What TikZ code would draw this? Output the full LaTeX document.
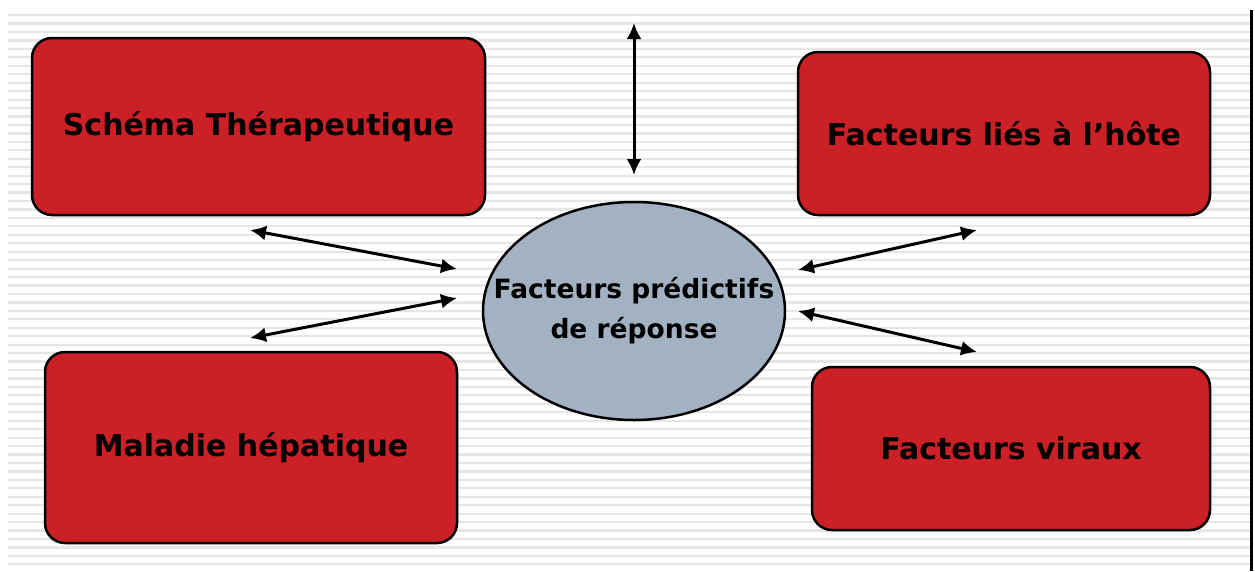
\documentclass[tikz,border=0pt]{standalone}
\usepackage{fontspec}
\setmainfont{DejaVu Sans}
\usetikzlibrary{backgrounds,arrows.meta,shapes.geometric}
\definecolor{xred}{RGB}{204,32,39}
\definecolor{xgrey}{RGB}{163,178,194}
\definecolor{xstripe}{RGB}{230,230,230}

\begin{document}
\begin{tikzpicture}[x=1pt, y=-1pt,
		box/.style={draw, rectangle, rounded corners=20pt, line width=2.5pt, fill=xred, inner sep=0pt, font=\bfseries\fontsize{30}{36}\selectfont},
		link/.style={{Latex[length=16pt,width=15pt]}-{Latex[length=16pt,width=15pt]}, line width=3pt}]
			\useasboundingbox (0,0) rectangle (1255,571);
			\begin{scope}[on background layer]
				\fill[white] (0,0) rectangle (1255,571);
				\foreach \k in {0,...,65}
					\fill[xstripe] (8,14+8.45*\k) rectangle (1250,16.2+8.45*\k);
				\draw[line width=3pt] (1251,10) -- (1251,571);
			\end{scope}
			\node[box, minimum width=453pt, minimum height=177pt] at (258.5, 126.5) (schema) {Schéma Thérapeutique};
			\node[box, minimum width=412pt, minimum height=163pt] at (1004, 133.5) (hote) {Facteurs liés à l’hôte};
			\node[box, minimum width=412pt, minimum height=191pt] at (251, 447.5) (maladie) {Maladie hépatique};
			\node[box, minimum width=398pt, minimum height=163pt] at (1011, 448.5) (viraux) {Facteurs viraux};
			\node[draw, ellipse, line width=2.5pt, fill=xgrey, minimum width=302pt, minimum height=218pt, inner sep=0pt, align=center, font=\bfseries\fontsize{26.5}{40}\selectfont] at (634, 311) (pred) {\makebox[0pt]{Facteurs prédictifs}\\\makebox[0pt]{de réponse}};
			% free arrow ends
			\coordinate (top1) at (634, 23);
			\coordinate (top2) at (634, 175);
			\coordinate (schemaend) at (250, 230);
			\coordinate (predl1) at (457, 269);
			\coordinate (predl2) at (457, 298);
			\coordinate (maladieend) at (250, 338);
			\coordinate (predr1) at (798, 270);
			\coordinate (hoteend) at (977, 230);
			\coordinate (predr2) at (798, 311);
			\coordinate (virauxend) at (977, 352);
			\draw[link] (top1) -- (top2);
			\draw[link] (schemaend) -- (predl1);
			\draw[link] (predl2) -- (maladieend);
			\draw[link] (predr1) -- (hoteend);
			\draw[link] (predr2) -- (virauxend);
		\end{tikzpicture}
\end{document}
